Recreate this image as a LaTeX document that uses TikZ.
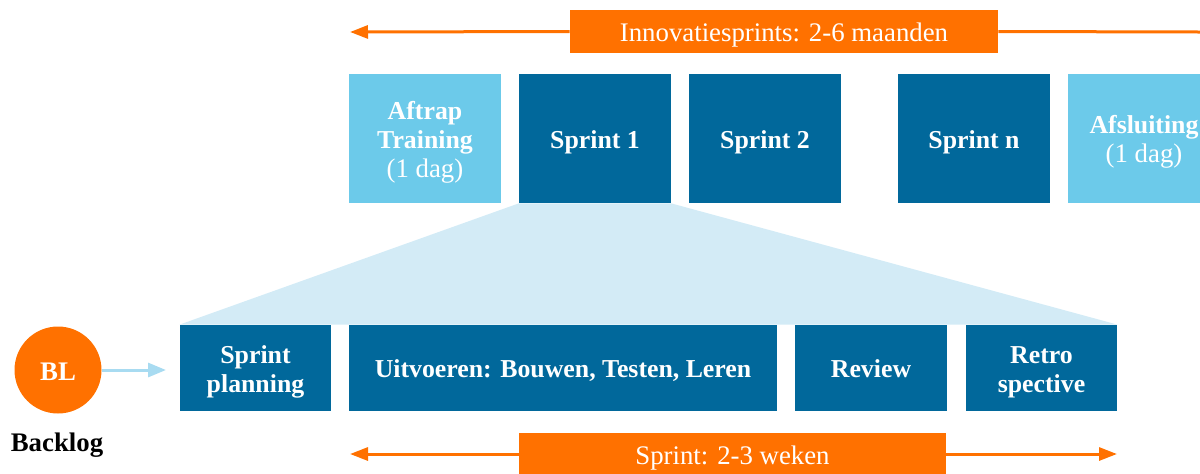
\documentclass[tikz,border=0pt]{standalone}
\usepackage{fontspec}
\setmainfont{Liberation Serif}
\usetikzlibrary{arrows.meta,backgrounds}
\definecolor{orng}{HTML}{FF7100}
\definecolor{dblue}{HTML}{01689B}
\definecolor{lblue}{HTML}{6CCAEA}
\definecolor{pale}{HTML}{D3EBF6}
\definecolor{arrblue}{HTML}{A8DBF1}
\newcommand\bxt[1]{\raisebox{0pt}[\dimexpr\height+4pt\relax][\depth]{\begin{tabular}{@{}c@{}}#1\end{tabular}}}
\begin{document}
\begin{tikzpicture}[x=0.5pt,y=-0.5pt,
  box/.style={rectangle, inner sep=0pt, text=white,
    font=\fontsize{12.9}{14.5}\selectfont\bfseries},
  dark/.style={box, fill=dblue},
  light/.style={box, fill=lblue},
  topbox/.style={minimum width=76pt, minimum height=64.5pt},
  botbox/.style={minimum height=43pt},
  obar/.style={rectangle, inner sep=0pt, fill=orng, text=white,
    font=\fontsize{13.4}{15}\selectfont},
  oline/.style={draw=orng, line width=1.5pt},
  otip/.style={-{Triangle[length=9pt,width=6.5pt]}}
]
\useasboundingbox (0,0) rectangle (1200,473);
\clip (0,0) rectangle (1200,473);

% top bar
\node[obar, minimum width=214pt, minimum height=21.5pt] (title) at (784,31.5) {\bxt{Innovatiesprints: 2-6 maanden}};
\coordinate (topL) at (350,32);
\coordinate (topR) at (1201,32);
\draw[oline, otip] (title.west) -- (topL);
\draw[oline] (title.east) -- (topR);

% top boxes
\node[light, topbox] (aftrap) at (425,138.5) {\bxt{Aftrap\\Training\\{\fontsize{13.4}{14.5}\selectfont\mdseries (1 dag)}}};
\node[dark, topbox] (s1) at (595,138.5) {\bxt{Sprint 1}};
\node[dark, topbox] (s2) at (765,138.5) {\bxt{Sprint 2}};
\node[dark, topbox] (sn) at (974,138.5) {\bxt{Sprint n}};
\node[light, topbox] (afsl) at (1144,138.5) {\bxt{Afsluiting\\{\fontsize{13.4}{14.5}\selectfont\mdseries (1 dag)}}};

% bottom boxes
\node[dark, botbox, minimum width=75.5pt] (plan) at (255.5,368) {\bxt{Sprint\\planning}};
\node[dark, botbox, minimum width=214pt] (uitv) at (563,368) {\bxt{Uitvoeren: Bouwen, Testen, Leren}};
\node[dark, botbox, minimum width=76pt] (review) at (871,368) {\bxt{Review}};
\node[dark, botbox, minimum width=75.5pt] (retro) at (1041.5,368) {\bxt{Retro\\spective}};

% trapezoid
\begin{scope}[on background layer]
\fill[pale] (s1.south west) -- (s1.south east) -- (retro.north east) -- (plan.north west) -- cycle;
\end{scope}

% backlog
\node[circle, fill=orng, minimum size=43.5pt, inner sep=0pt, text=white,
  font=\fontsize{13.4}{15}\selectfont\bfseries] (bl) at (58,370) {\bxt{BL}};
\coordinate (blend) at (166,370);
\draw[draw=arrblue, line width=1.5pt, -{Triangle[length=9pt,width=7pt]}] (bl.east) -- (blend);
\node[font=\fontsize{13.4}{15}\selectfont\bfseries, text=black] (backlog) at (57,445) {Backlog};

% bottom bar
\node[obar, minimum width=213.5pt, minimum height=21pt] (sprint) at (732.5,454) {\bxt{Sprint: 2-3 weken}};
\coordinate (botL) at (350,454);
\coordinate (botR) at (1117,454);
\draw[oline, otip] (sprint.west) -- (botL);
\draw[oline, otip] (sprint.east) -- (botR);
\end{tikzpicture}
\end{document}
